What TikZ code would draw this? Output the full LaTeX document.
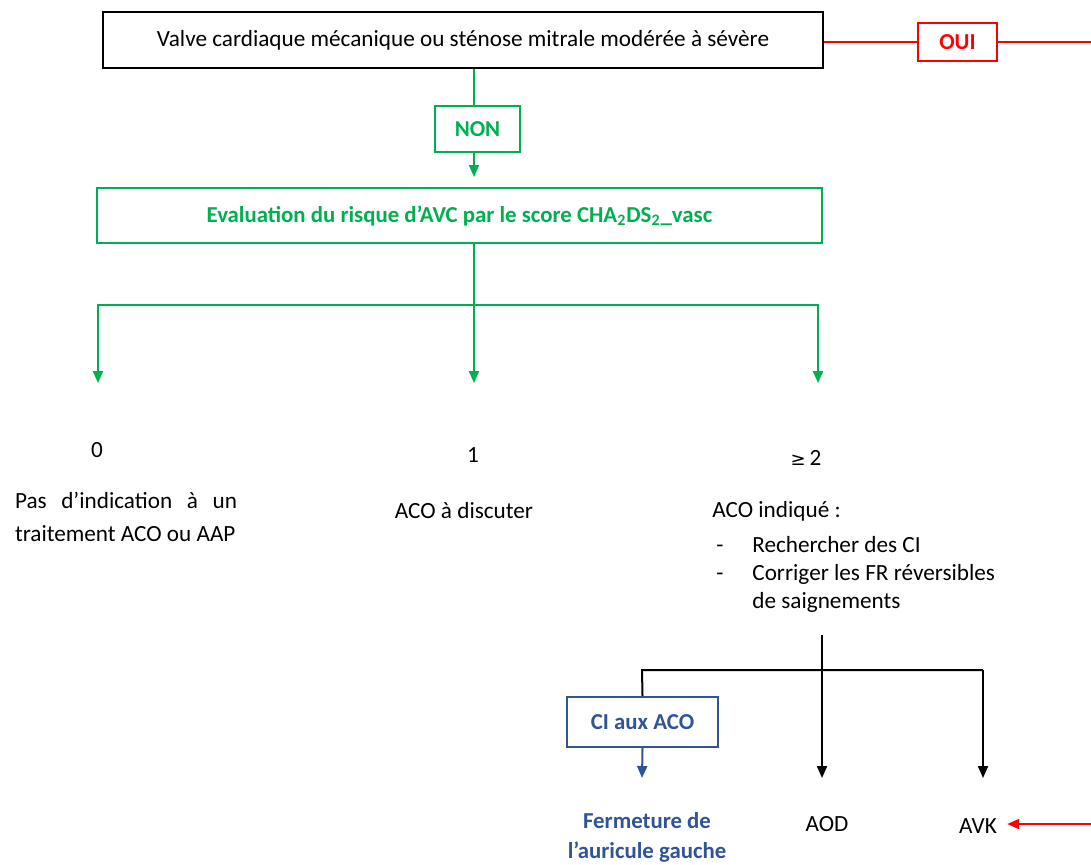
\documentclass[tikz,border=0pt]{standalone}
\usepackage{fontspec}
\setmainfont{Carlito}
\newfontfamily\symb{DejaVu Sans}
\usetikzlibrary{arrows.meta, positioning}
\definecolor{vert}{HTML}{00B050}
\definecolor{rouge}{HTML}{FF0000}
\definecolor{bleu}{HTML}{2F5597}

\tikzset{
  txt/.style={font=\fontsize{11.6}{13}\selectfont, inner sep=0pt},
  boite/.style={txt, draw, line width=1pt},
  gras/.style={font=\fontsize{11.4}{13}\selectfont\bfseries},
  fleche/.style={-{Triangle[length=6pt,width=5pt]}, line width=1pt},
}

\begin{document}
\begin{tikzpicture}[x=0.5pt, y=-0.5pt]
        \useasboundingbox (0,0) rectangle (1091,864);

        % boites
        \node[boite, minimum width=360pt, minimum height=28pt] (haut) at (463,40) {Valve cardiaque mécanique ou sténose mitrale modérée à sévère};
        \node[boite, rouge, gras, minimum width=39.5pt, minimum height=19pt] (oui) at (957.5,42) {OUI};
        \node[boite, vert, gras, minimum width=42.5pt, minimum height=23pt] (non) at (477.5,129) {NON};
        \node[boite, vert, gras, minimum width=362.5pt, minimum height=27.5pt] (eval) at (459.5,215.5) {Evaluation du risque d’AVC par le score CHA\textsubscript{2}DS\textsubscript{2}\_vasc};
        \node[boite, bleu, gras, minimum width=75.5pt, minimum height=25pt] (ci) at (642.5,722) {CI aux ACO};

        % scores
        \node[txt] (sc0) at (97,450) {0};
        \node[txt] (sc1) at (473,455) {1};
        \node[txt] (sc2) at (806,458) {{\symb\fontsize{9}{11}\selectfont ≥}\,2};

        \node[txt, text width=111pt, align=justify, font=\fontsize{11.6}{16.5}\selectfont] (pas) at (126,516.5) {Pas d’indication à un traitement ACO ou AAP};
        \node[txt] (disc) at (464,511) {ACO à discuter};
        \node[txt, anchor=west] (indic) at (712,511) {ACO indiqué :};
        \node[txt, anchor=north west, align=left, font=\fontsize{11.6}{14}\selectfont] (liste) at (712,536) {\hspace*{2pt}\makebox[18pt][l]{-}Rechercher des CI\\
            \hspace*{2pt}\makebox[18pt][l]{-}Corriger les FR réversibles\\
            \hspace*{20pt}de saignements};

        % traitements
        \node[txt, bleu, align=center, font=\fontsize{11.4}{15}\selectfont\bfseries] (ferm) at (647,837) {Fermeture de\\l’auricule gauche};
        \node[txt] (aod) at (827,824) {AOD};
        \node[txt] (avk) at (978,826) {AVK};

        % points
        \coordinate (emb) at (474,305);
        \coordinate (s0) at (98,383);
        \coordinate (s1) at (474,383);
        \coordinate (s2) at (818,383);
        \coordinate (dep) at (822,635);
        \coordinate (g) at (642,670);
        \coordinate (d) at (983,670);
        \coordinate (s3) at (642,778);
        \coordinate (s4) at (822,778);
        \coordinate (s5) at (983,778);
        \coordinate (bord1) at (1091,42);
        \coordinate (bord2) at (1091,824);

        % vert
        \draw[vert, line width=1pt] (haut.south -| emb) -- (non.north -| emb);
        \draw[vert, fleche, shorten >=5pt] (non.south -| emb) -- (eval.north -| emb);
        \draw[vert, line width=1pt] (eval.south -| emb) -- (emb);
        \draw[vert, fleche] (emb) -| (s0);
        \draw[vert, fleche] (emb) -- (s1);
        \draw[vert, fleche] (emb) -| (s2);

        % rouge
        \draw[rouge, line width=1pt] (oui.west -| haut.east) -- (oui.west);
        \draw[rouge, line width=1pt] (oui.east) -- (bord1);
        \draw[rouge, fleche, shorten >=5pt] (bord2) -- (avk.east |- bord2);

        % noir
        \draw[fleche] (dep) -- (s4);
        \draw[line width=1pt] (ci.north) -- (g) -- (d);
        \draw[fleche] (d) -- (s5);
        \draw[bleu, fleche] (ci.south) -- (s3);
    \end{tikzpicture}
\end{document}
